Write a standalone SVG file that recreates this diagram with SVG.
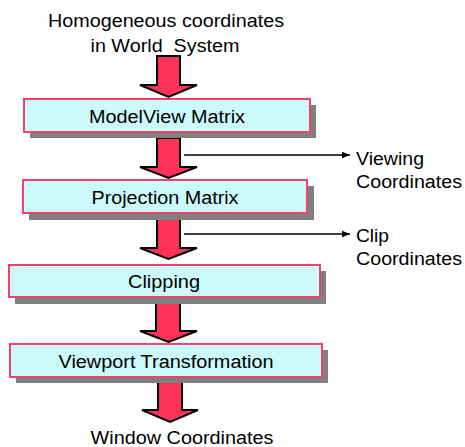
<svg xmlns="http://www.w3.org/2000/svg" width="465" height="447" viewBox="0 0 465 447">
<defs>
<style>
text{font-family:"Liberation Sans",Arial,sans-serif;font-size:18px;fill:#000}
.box{fill:#CCF9F9;stroke:#F5416A;stroke-width:2}
.shadow{fill:#808080}
.big{fill:#FF3358;stroke:#000;stroke-width:2;stroke-linejoin:miter}
.thin{stroke:#000;stroke-width:1.5;fill:none}
</style>
<marker id="ah" viewBox="0 0 10 10" refX="10" refY="5" markerWidth="8" markerHeight="8" markerUnits="userSpaceOnUse" orient="auto">
<path d="M0,1 L10,5 L0,9 Z" fill="#000"/>
</marker>
</defs>
<rect width="465" height="447" fill="#fff"/>
<g id="title">
<text x="166" y="27" text-anchor="middle" textLength="236" lengthAdjust="spacingAndGlyphs">Homogeneous coordinates</text>
<text x="165" y="52" text-anchor="middle" textLength="149" lengthAdjust="spacingAndGlyphs" xml:space="preserve">in World  System</text>
</g>
<g id="connectors">
<polygon class="big" points="157,56 180,56 180,85 197,85 168.5,97 140,85 157,85"/>
<polygon class="big" points="157,138 180,138 180,167 197,167 168.5,178 140,167 157,167"/>
<polygon class="big" points="157,219 180,219 180,248 197,248 168.5,259 140,248 157,248"/>
<polygon class="big" points="156,302 180,302 180,331 197,331 168.5,342 140,331 156,331"/>
<polygon class="big" points="158,382 182,382 182,410 198,410 170,422 142,410 158,410"/>
<line class="thin" x1="184" y1="155" x2="350" y2="155" marker-end="url(#ah)"/>
<line class="thin" x1="184" y1="234" x2="350" y2="234" marker-end="url(#ah)"/>
</g>
<g id="modelview">
<rect class="shadow" x="30" y="105" width="286" height="33"/>
<rect class="box" x="24" y="99" width="286" height="33"/>
<text x="167" y="123" text-anchor="middle" textLength="156" lengthAdjust="spacingAndGlyphs">ModelView Matrix</text>
</g>
<g id="projection">
<rect class="shadow" x="29" y="186" width="285" height="34"/>
<rect class="box" x="23" y="180" width="284" height="33"/>
<text x="165" y="204" text-anchor="middle" textLength="147" lengthAdjust="spacingAndGlyphs">Projection Matrix</text>
</g>
<g id="clipping">
<rect class="shadow" x="15" y="271" width="311" height="33"/>
<rect class="box" x="9" y="265" width="311" height="32"/>
<text x="164" y="288" text-anchor="middle" textLength="72" lengthAdjust="spacingAndGlyphs">Clipping</text>
</g>
<g id="viewport">
<rect class="shadow" x="16" y="350" width="312" height="33"/>
<rect class="box" x="10" y="344" width="312" height="33"/>
<text x="166" y="368" text-anchor="middle" textLength="215" lengthAdjust="spacingAndGlyphs">Viewport Transformation</text>
</g>
<g id="viewing-label">
<text x="356" y="165" textLength="68" lengthAdjust="spacingAndGlyphs">Viewing</text>
<text x="356" y="188" textLength="106" lengthAdjust="spacingAndGlyphs">Coordinates</text>
</g>
<g id="clip-label">
<text x="356" y="242" textLength="33" lengthAdjust="spacingAndGlyphs">Clip</text>
<text x="356" y="265" textLength="106" lengthAdjust="spacingAndGlyphs">Coordinates</text>
</g>
<g id="window">
<text x="182" y="444" text-anchor="middle" textLength="183" lengthAdjust="spacingAndGlyphs">Window Coordinates</text>
</g>
</svg>
